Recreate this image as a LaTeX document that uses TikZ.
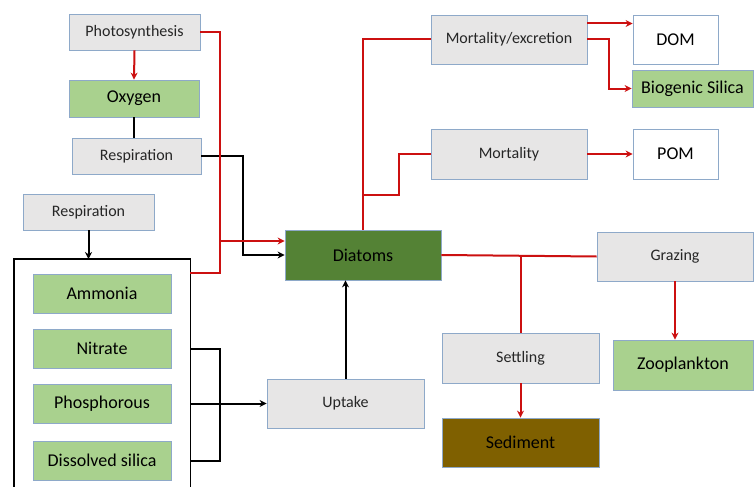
\documentclass[tikz,border=0pt]{standalone}
\usepackage{fontspec}
\setmainfont{Carlito}
\usetikzlibrary{arrows.meta}
\definecolor{boxgrey}{HTML}{E7E6E6}
\definecolor{boxedge}{HTML}{8EA9C9}
\definecolor{lgreen}{HTML}{A9D18E}
\definecolor{dgreen}{HTML}{548235}
\definecolor{brownfill}{HTML}{7F6000}
\definecolor{linkred}{HTML}{CC1010}
\tikzset{
  gbox/.style={draw=boxedge, fill=boxgrey, line width=0.8pt, inner sep=0pt, text=black!85, font=\fontsize{16}{18}\selectfont},
  grbox/.style={gbox, fill=lgreen, text=black, font=\fontsize{18}{20}\selectfont},
  wbox/.style={grbox, fill=white},
  rl/.style={draw=linkred, line width=2pt},
  bl/.style={draw=black, line width=2pt},
  tip/.style={-{Stealth[length=7pt,width=7pt]}}
}
\begin{document}
\begin{tikzpicture}[x=1pt,y=-1pt]
\useasboundingbox[fill=white] (0,0) rectangle (755,487);
% nodes
\node[gbox, minimum width=131, minimum height=36] (photo) at (134.5,32) {Photosynthesis};
\node[grbox, minimum width=130, minimum height=37] (oxy) at (134,98.5) {Oxygen};
\node[gbox, minimum width=129, minimum height=36] (resp1) at (136.5,156) {Respiration};
\node[gbox, minimum width=131, minimum height=36] (resp2) at (88.5,212) {Respiration};
\node[minimum width=176, minimum height=228, inner sep=0pt, anchor=north west] (nut) at (14,259) {};
\node[grbox, minimum width=138, minimum height=39] (amm) at (102,293.5) {Ammonia};
\node[grbox, minimum width=138, minimum height=39] (nit) at (102,348.5) {Nitrate};
\node[grbox, minimum width=138, minimum height=39] (phos) at (102,403.5) {Phosphorous};
\node[grbox, minimum width=138, minimum height=39] (dsil) at (102,460.5) {Dissolved silica};
\node[grbox, fill=dgreen, minimum width=156, minimum height=50] (diat) at (363,255) {Diatoms};
\node[gbox, minimum width=157, minimum height=49] (upt) at (345.5,403.5) {Uptake};
\node[gbox, minimum width=156, minimum height=49] (mortex) at (509,39.5) {Mortality/excretion};
\node[wbox, minimum width=85, minimum height=49] (dom) at (675.5,39.5) {DOM};
\node[grbox, minimum width=121, minimum height=37] (bsil) at (692.5,88.5) {Biogenic Silica};
\node[gbox, minimum width=156, minimum height=50] (mort) at (509,154) {Mortality};
\node[wbox, minimum width=85, minimum height=50] (pom) at (675.5,154) {POM};
\node[gbox, minimum width=156, minimum height=49] (graz) at (675,256.5) {Grazing};
\node[grbox, minimum width=140, minimum height=50] (zoo) at (683,365) {Zooplankton};
\node[gbox, minimum width=157, minimum height=50] (settle) at (520.5,358) {Settling};
\node[grbox, fill=brownfill, minimum width=157, minimum height=49] (sed) at (520.5,442.5) {Sediment};
% nutrient box (open at bottom)
\draw[black, line width=1.6pt] (nut.south west) -- (nut.north west) -- (nut.north east) -- (nut.south east);
% black connectors
\draw[bl] (oxy.south) -- (oxy.south |- resp1.north);
\draw[bl, tip] (resp1.east) -| ([xshift=-42pt]diat.west) -- (diat.west);
\draw[bl, tip] (resp2.south) -- (resp2.south |- nut.north);
\draw[bl] (nit.east -| nut.east) -- ++(30,0) |- (dsil.east -| nut.east);
\draw[bl, tip] (phos.east -| nut.east) -- (upt.west);
\draw[bl, tip] (upt.north) -- (upt.north |- diat.south);
% red connectors
\draw[rl, tip] (photo.south) -- (oxy.north);
\draw[rl, tip] (photo.east) -| ([xshift=-65pt,yshift=14pt]diat.west) -- ([yshift=14pt]diat.west);
\draw[rl] ([yshift=-14pt]nut.north east) -| ([xshift=-65pt,yshift=14pt]diat.west);
\draw[rl] (diat.north) |- (mortex.west);
\draw[rl] (mort.west) -- ++(-32,0) -- ++(0,41) -| (diat.north);
\draw[rl, tip] ([yshift=16pt]mortex.east) -- ([yshift=16pt]mortex.east -| dom.west);
\draw[rl, tip] (mortex.east) -- ++(22,0) |- (bsil.west);
\draw[rl, tip] (mort.east) -- (pom.west);
\draw[rl] (diat.east) -- (graz.west);
\draw[rl] (settle.north) -- ++(0,-77);
\draw[rl, tip] (settle.south) -- (sed.north);
\draw[rl, tip] (graz.south) -- (zoo.north -| graz.south);
\end{tikzpicture}
\end{document}
